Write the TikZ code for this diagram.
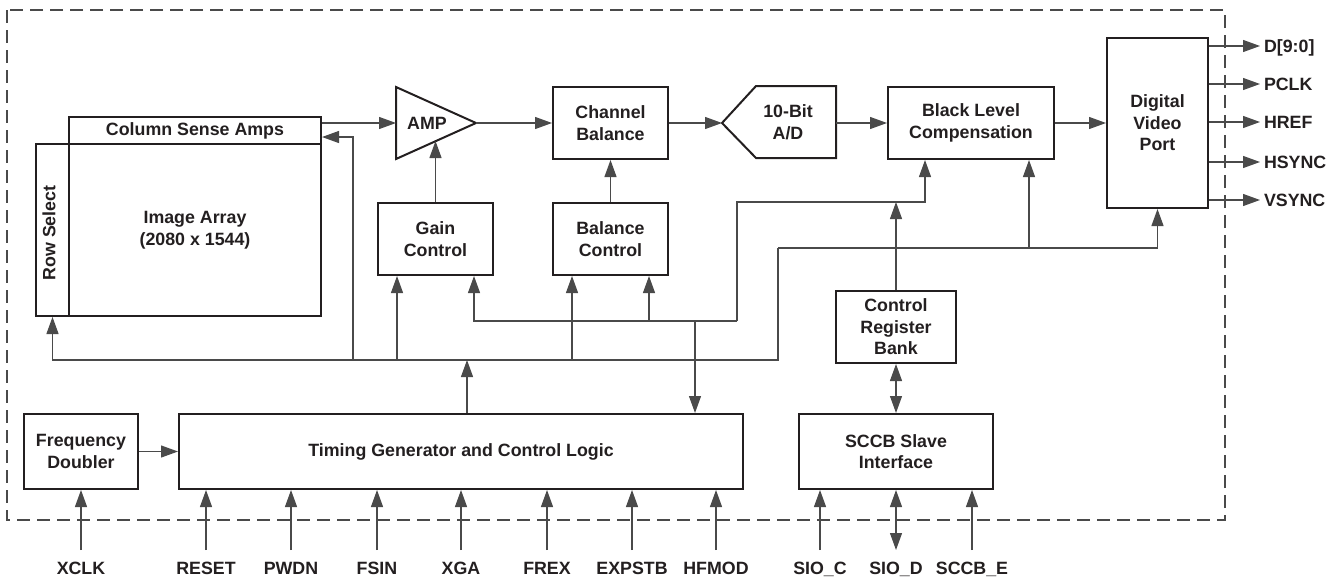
\documentclass[tikz,border=0pt]{standalone}
\usepackage{fontspec}
\setmainfont{Liberation Sans}
\usetikzlibrary{positioning,arrows.meta}
\definecolor{ink}{HTML}{231F20}
\definecolor{wire}{HTML}{4A4A4A}
\tikzset{
  blk/.style={draw=ink, line width=2pt, align=center, inner sep=0pt, minimum height=72pt},
  con/.style={draw=wire, line width=1.2pt},
  arr/.style={con, -{Triangle[length=17pt,width=12pt]}},
  dbl/.style={con, {Triangle[length=17pt,width=12pt]}-{Triangle[length=17pt,width=12pt]}},
  pinlbl/.style={inner sep=0pt, text height=13pt, text depth=0pt, outer ysep=11.5pt},
  outlbl/.style={inner sep=0pt, text height=13pt, text depth=0pt, outer xsep=4pt, anchor=west},
  every node/.style={font=\fontsize{17.8}{21.5}\selectfont\bfseries, text=ink}
}

\begin{document}
\begin{tikzpicture}[x=1pt, y=-1pt]

  \useasboundingbox (0,0) rectangle (1338,579);
  \draw[wire, line width=1.2pt, dash pattern=on 13pt off 7pt] (7,10) rectangle (1225,520);

  \node[blk, minimum width=252pt, minimum height=27pt] (csa) at (195,130.5) {Column Sense Amps};
  \node[blk, minimum width=252pt, minimum height=172pt] (img) at (195,230) {Image Array\\(2080 x 1544)};
  \node[blk, minimum width=33pt, minimum height=172pt] (rows) at (52.5,230) {};
  \node[rotate=90] (rowtxt) at (49,233) {Row Select};

  \coordinate (ampIn) at (396,123);
  \coordinate (ampOut) at (476,123);
  \coordinate (ampBot) at (436,141);
  \draw[ink, line width=2pt, line join=miter] (396,87) -- (ampOut) -- (396,159) -- cycle;
  \node (amp) at (427,123) {AMP};

  \node[blk, minimum width=115pt] (chb) at (610.5,123) {Channel\\Balance};
  \node[blk, minimum width=115pt] (gain) at (435.5,239) {Gain\\Control};
  \node[blk, minimum width=115pt] (balc) at (610.5,239) {Balance\\Control};

  \coordinate (adcIn) at (722,123);
  \coordinate (adcOut) at (836,123);
  \draw[ink, line width=2pt, line join=miter] (adcIn) -- (756,86) -- (836,86) -- (836,158) -- (756,158) -- cycle;
  \node[align=center] (adc) at (788,122) {10-Bit\\A/D};

  \node[blk, minimum width=166pt] (blc) at (971,123) {Black Level\\Compensation};
  \node[blk, minimum width=101pt, minimum height=170pt] (dvp) at (1157.5,123) {Digital\\Video\\Port};
  \node[blk, minimum width=120pt] (crb) at (896,327) {Control\\Register\\Bank};
  \node[blk, minimum width=194pt, minimum height=75pt] (sccb) at (896,451.5) {SCCB Slave\\Interface};
  \node[blk, minimum width=564pt, minimum height=75pt] (tg) at (461,451.5) {Timing Generator and Control Logic};
  \node[blk, minimum width=114pt, minimum height=75pt] (fd) at (81,451.5) {Frequency\\Doubler};

  \draw[arr] (csa.east |- ampIn) -- (ampIn);
  \draw[arr] (ampOut) -- (chb.west);
  \draw[arr] (chb.east) -- (adcIn);
  \draw[arr] (adcOut) -- (blc.west);
  \draw[arr] (blc.east) -- (dvp.west);
  \draw[arr] (gain.north) -- (gain.north |- ampBot);
  \draw[arr] (balc) -- (chb);

  \foreach \nm/\py/\txt in {d/46/{D[9:0]}, pclk/84/PCLK, href/122/HREF, hsync/162/HSYNC, vsync/200/VSYNC}{
    \node[outlbl] (o\nm) at (1260,\py) {\txt};
    \draw[arr] (dvp.east |- o\nm) -- (o\nm);
  }

  \coordinate (csaIn) at ([yshift=-6.5]csa.east);
  \coordinate (csaTap) at ([xshift=31]csaIn);
  \coordinate (gainL) at ([xshift=-38.5]gain.south);
  \coordinate (gainR) at ([xshift=38.5]gain.south);
  \coordinate (balL) at ([xshift=-38.5]balc.south);
  \coordinate (balR) at ([xshift=38.5]balc.south);
  \coordinate (blcL) at ([xshift=-46]blc.south);
  \coordinate (blcR) at ([xshift=58]blc.south);
  \coordinate (tgUp) at ([xshift=6]tg.north);
  \coordinate (tgDn) at ([xshift=234]tg.north);
  \coordinate (bus) at ([yshift=53]tgUp);
  \coordinate (busR) at (778,248);
  \coordinate (ctl) at ([yshift=88]crb.north);
  \coordinate (ctlBus) at (737,321);

  \draw[arr] (crb.north) -- (ctl);
  \draw[arr] (ctlBus) -- (ctlBus |- ctl) -| (blcL);
  \draw[arr] (ctlBus) -| (gainR);
  \draw[arr] (balR |- ctlBus) -- (balR);
  \draw[arr] (tgDn |- ctlBus) -- (tgDn);

  \draw[arr] (busR) |- (bus) -| (rows.south);
  \draw[arr] (busR) -| (dvp.south);
  \draw[arr] (blcR |- busR) -- (blcR);
  \draw[arr] (tgUp) -- (bus);
  \draw[arr] (gainL |- bus) -- (gainL);
  \draw[arr] (balL |- bus) -- (balL);
  \draw[arr] (csaTap |- bus) -- (csaTap) -- (csaIn);

  \draw[arr] (fd) -- (tg);
  \draw[dbl] (crb) -- (sccb);

  \node[pinlbl] (xclk) at (81,568) {XCLK};
  \draw[arr] (xclk) -- (fd);
  \foreach \nm/\px in {RESET/206, PWDN/291, FSIN/377, XGA/461, FREX/547, EXPSTB/632, HFMOD/716}{
    \node[pinlbl] (\nm) at (\px,568) {\nm};
    \draw[arr] (\nm) -- (\nm |- tg.south);
  }
  \node[pinlbl] (sioc) at (820,568) {SIO\_C};
  \draw[arr] (sioc) -- (sioc |- sccb.south);
  \node[pinlbl] (siod) at (896,568) {SIO\_D};
  \draw[dbl] (siod) -- (sccb);
  \node[pinlbl] (sccbe) at (972,568) {SCCB\_E};
  \draw[arr] (sccbe) -- (sccbe |- sccb.south);

\end{tikzpicture}
\end{document}
